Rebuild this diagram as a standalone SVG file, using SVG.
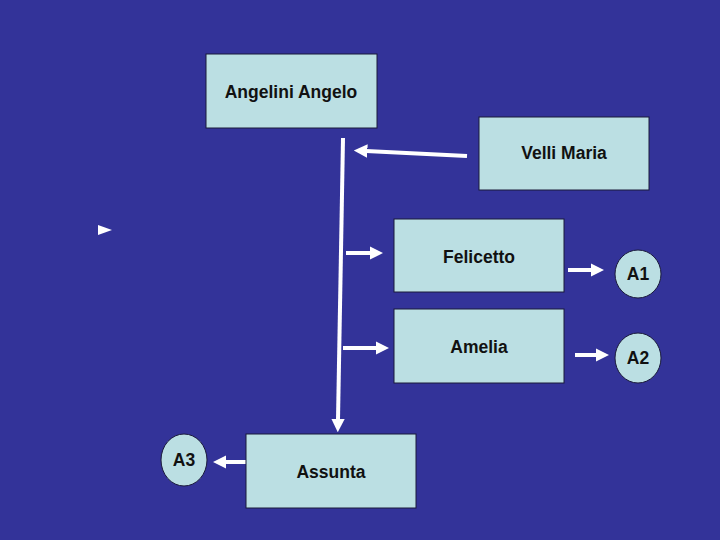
<svg xmlns="http://www.w3.org/2000/svg" width="720" height="540" viewBox="0 0 720 540">
<style>
.box{fill:#bbdfe3;stroke:#1a1a3a;stroke-width:1}
.lbl{font-family:"Liberation Sans",Arial,sans-serif;font-size:17.5px;font-weight:bold;fill:#111;text-anchor:middle}
.con{stroke:#fff;stroke-width:4;fill:none}
</style>
<defs>
<marker id="ah" viewBox="0 0 10 10" refX="1" refY="5" markerWidth="3.4" markerHeight="3.4" orient="auto" markerUnits="strokeWidth">
<path d="M0,0 L10,5 L0,10 Z" fill="#fff"/>
</marker>
</defs>
<rect x="0" y="0" width="720" height="540" fill="#333399"/>
<g id="connectors">
<path class="con" d="M343,138 L338,420" marker-end="url(#ah)"/>
<path class="con" d="M467,156 L366,151" marker-end="url(#ah)"/>
<path class="con" d="M346,253 L371,253" marker-end="url(#ah)"/>
<path class="con" d="M343,348 L377,348" marker-end="url(#ah)"/>
<path class="con" d="M568,270 L592,270" marker-end="url(#ah)"/>
<path class="con" d="M575,355 L597,355" marker-end="url(#ah)"/>
<path class="con" d="M253,462 L225,462" marker-end="url(#ah)"/>
<path d="M98,225 L112,230 L98,235 Z" fill="#fff"/>
</g>
<g id="angelini"><rect class="box" x="206" y="54" width="171" height="74"/><text class="lbl" x="291" y="98">Angelini Angelo</text></g>
<g id="velli"><rect class="box" x="479" y="117" width="170" height="73"/><text class="lbl" x="564" y="159">Velli Maria</text></g>
<g id="felicetto"><rect class="box" x="394" y="219" width="170" height="73"/><text class="lbl" x="479" y="263">Felicetto</text></g>
<g id="amelia"><rect class="box" x="394" y="309" width="170" height="74"/><text class="lbl" x="479" y="353">Amelia</text></g>
<g id="assunta"><rect class="box" x="246" y="434" width="170" height="74"/><text class="lbl" x="331" y="478">Assunta</text></g>
<g id="a1"><ellipse class="box" cx="638" cy="274" rx="23" ry="24"/><text class="lbl" x="638" y="280">A1</text></g>
<g id="a2"><ellipse class="box" cx="638" cy="358" rx="23" ry="25"/><text class="lbl" x="638" y="364">A2</text></g>
<g id="a3"><ellipse class="box" cx="184" cy="460" rx="23" ry="26"/><text class="lbl" x="184" y="466">A3</text></g>
</svg>
